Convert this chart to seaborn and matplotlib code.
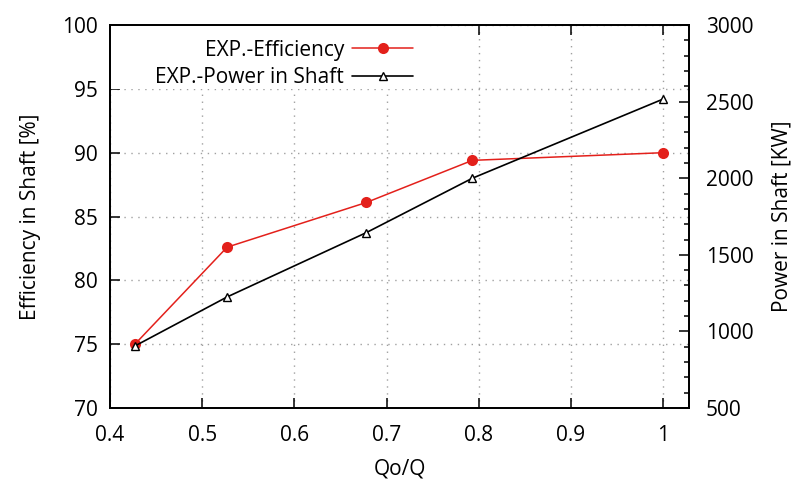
import pandas as pd
import matplotlib
matplotlib.use("Agg")
import matplotlib.pyplot as plt
from matplotlib.patches import Rectangle
from matplotlib.ticker import MultipleLocator
import seaborn as sns

# values
flow_ratio = [0.427, 0.527, 0.678, 0.793, 1.0]
efficiency = [75.0, 82.6, 86.1, 89.4, 90.0]
power_kw = [905, 1225, 1645, 2000, 2517]

x_ticks = [0.4, 0.5, 0.6, 0.7, 0.8, 0.9, 1.0]
x_tick_labels = ['0.4', '0.5', '0.6', '0.7', '0.8', '0.9', '1']

df = pd.DataFrame({'Qo/Q': flow_ratio, 'Efficiency': efficiency, 'Power': power_kw})

sns.set_style("ticks")
plt.rcParams['font.family'] = ['Open Sans', 'DejaVu Sans']
plt.rcParams['font.size'] = 15
plt.rcParams['text.color'] = 'black'
plt.rcParams['axes.labelcolor'] = 'black'
plt.rcParams['xtick.color'] = 'black'
plt.rcParams['ytick.color'] = 'black'

fig = plt.figure(figsize=(7.95, 4.88), dpi=100)
ax = fig.add_axes([0.1384, 0.1639, 0.7283, 0.7848])
ax2 = ax.twinx()

sns.lineplot(data=df, x='Qo/Q', y='Efficiency', ax=ax, color='#e3201b',
             marker='o', markersize=8, markeredgewidth=0, linewidth=1.1,
             label='EXP.-Efficiency', legend=False, zorder=3)
sns.lineplot(data=df, x='Qo/Q', y='Power', ax=ax2, color='black',
             marker='^', markersize=6, markerfacecolor='white',
             markeredgecolor='black', markeredgewidth=1, linewidth=1.2,
             label='EXP.-Power in Shaft', legend=False, zorder=3)

ax.set_xlim(0.4, 1.028)
ax.set_ylim(70, 100)
ax2.set_ylim(500, 3000)
ax.set_xticks(x_ticks)
ax.set_xticklabels(x_tick_labels)
ax.yaxis.set_major_locator(MultipleLocator(5))
ax2.yaxis.set_major_locator(MultipleLocator(500))
ax2.yaxis.set_minor_locator(MultipleLocator(100))

ax.grid(True, which='major', color='#a0a0a0', linestyle=(0, (1, 4)), linewidth=1)
ax2.grid(False)

# white key box hiding the grid, as in the reference
ax.add_patch(Rectangle((0, 0.833), 0.547, 0.2, transform=ax.transAxes,
                       facecolor='white', edgecolor='none', zorder=1))

ax.tick_params(axis='x', direction='in', length=7, width=1.1, top=True, bottom=True, pad=12)
ax.tick_params(axis='y', direction='in', length=7, width=1.1, left=True, right=False, pad=9)
ax2.tick_params(axis='y', which='major', direction='in', length=7, width=1.1, right=True, pad=12)
ax2.tick_params(axis='y', which='minor', direction='in', length=3.5, width=1.1, right=True)

for a in (ax, ax2):
    for s in a.spines.values():
        s.set_linewidth(1.3)
        s.set_color('black')

ax.set_xlabel('Qo/Q', labelpad=9)
ax.set_ylabel('Efficiency in Shaft [%]', labelpad=15)
ax2.set_ylabel('Power in Shaft [KW]', labelpad=13)

handles = ax.get_lines()[:1] + ax2.get_lines()[:1]
labels = ['EXP.-Efficiency', 'EXP.-Power in Shaft']
ax2.legend(handles, labels, loc='upper right', bbox_to_anchor=(0.523, 0.962),
           markerfirst=False, frameon=False, handlelength=2.9, handletextpad=0.4,
           labelspacing=0.3, borderpad=0, borderaxespad=0, fontsize=15)

fig.savefig('out.png', dpi=100)
